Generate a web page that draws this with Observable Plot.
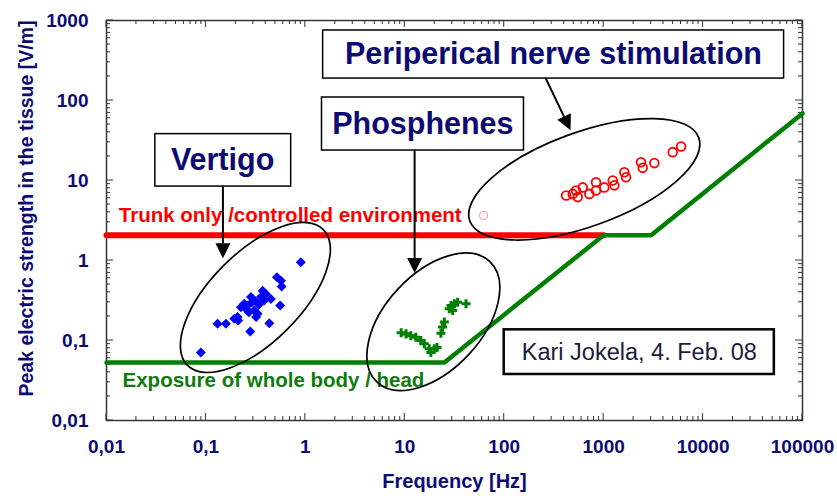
<!DOCTYPE html>
<html><head><meta charset="utf-8">
<script src="https://cdn.jsdelivr.net/npm/d3@7"></script>
<script src="https://cdn.jsdelivr.net/npm/@observablehq/plot@0.6"></script>
<style>body{margin:0;background:#fff}</style>
</head><body><div id="chart"></div>
<script>
// ---- data ----
const vertigoFreq = [0.90, 0.089, 0.131, 0.159, 0.193, 0.208, 0.263, 0.279, 0.434, 0.558, 0.518, 0.568, 0.577, 0.372, 0.40, 0.45, 0.284, 0.306, 0.225, 0.243, 0.306, 0.331, 0.32, 0.357, 0.385, 0.211, 0.27, 0.29, 0.26, 0.34];
const vertigoE    = [0.95, 0.071, 0.162, 0.162, 0.187, 0.196, 0.274, 0.13, 0.164, 0.274, 0.618, 0.56, 0.473, 0.42, 0.38, 0.33, 0.35, 0.316, 0.26, 0.288, 0.237, 0.216, 0.196, 0.35, 0.316, 0.178, 0.226, 0.30, 0.24, 0.28];
const phosFreq = [9.2, 10.3, 11.5, 12.9, 14.5, 15.7, 17.6, 19.8, 18.3, 21.1, 23.1, 24.0, 25, 28, 29.2, 31.5, 34, 41.3, 30.3];
const phosE    = [0.125, 0.121, 0.115, 0.11, 0.1, 0.091, 0.079, 0.079, 0.071, 0.082, 0.123, 0.147, 0.17, 0.249, 0.274, 0.288, 0.30, 0.288, 0.237];
const pnsFreq = [419, 489, 548, 527, 616, 718, 838, 838, 1016, 1234, 1282, 1616, 1680, 2376, 2470, 3236, 4955, 6010];
const pnsE    = [6.5, 6.8, 6.2, 7.5, 8.2, 6.8, 9.5, 7.5, 8.2, 10, 8.7, 12.7, 11, 16.9, 14.4, 16.5, 22.6, 26.6];
const pnsOutlierFreq = [62];
const pnsOutlierE = [3.65];

const trunkFreq = [0.01, 1000];
const trunkE = [2.07, 2.07];
const bodyFreq = [0.01, 25, 1000, 3000, 100000];
const bodyE = [0.053, 0.053, 2.07, 2.07, 69];

const xTicks = [0.01, 0.1, 1, 10, 100, 1000, 10000, 100000];
const xTickLabels = ["0,01", "0,1", "1", "10", "100", "1000", "10000", "100000"];
const yTicks = [0.01, 0.1, 1, 10, 100, 1000];
const yTickLabels = ["0,01", "0,1", "1", "10", "100", "1000"];

// annotations (data units)
const boxText = ["Vertigo", "Phosphenes", "Periperical nerve stimulation"];
const boxFreq1 = [0.031, 1.47, 1.51];
const boxFreq2 = [0.72, 158, 65300];
const boxE1 = [8.4, 23.7, 188];
const boxE2 = [38, 109, 750];
const boxTextFreq = [0.147, 15.2, 313];
const boxTextE = [17.8, 50.8, 376];

const arrowFreq1 = [0.15, 12.7, 264];
const arrowE1 = [8.4, 23.7, 188];
const arrowFreq2 = [0.15, 12.7, 470];
const arrowE2 = [1.05, 0.69, 42];

const ellipseFreq = [0.318, 19.6, 646];
const ellipseE = [0.34, 0.169, 10.2];
const ellipseMajor = [0.966, 0.83, 1.225]; // in decades of frequency
const ellipseMinor = [0.453, 0.485, 0.473];
const ellipseAngle = [45, 47, 20];

const noteText = ["Kari Jokela, 4. Feb. 08"];
const noteFreq1 = [100], noteFreq2 = [52100], noteE1 = [0.0376], noteE2 = [0.136];
const noteTextFreq = [2286], noteTextE = [0.0714];

const limitLabels = ["Trunk only /controlled environment", "Exposure of whole body / head"];
const limitLabelFreq = [0.0133, 0.0145];
const limitLabelE = [3.62, 0.0316];
const limitLabelColor = ["#ff0000", "#107a10"];

// ---- build ----
const navy = "#0b0b73";
const font = "'Liberation Sans', Arial, sans-serif";
const pts = (fs, es) => fs.map((f, i) => ({f, e: es[i]}));

const sqDiamond = {draw(ctx, size) {const r = Math.sqrt(size / Math.PI); ctx.moveTo(0, -r); ctx.lineTo(r, 0); ctx.lineTo(0, r); ctx.lineTo(-r, 0); ctx.closePath();}};

function ticksMark(index, scales, values, dims) {
  const g = d3.create("svg:g").attr("stroke", "#333").attr("stroke-width", 1);
  const {marginLeft: L, marginTop: T, width: W, height: H, marginRight: R, marginBottom: B} = dims;
  const xr = W - R, yb = H - B;
  const minor = (lo, hi) => { const out = []; for (let k = Math.log10(lo); k < Math.log10(hi); k++) for (let m = 2; m <= 9; m++) out.push(m * Math.pow(10, k)); return out; };
  for (const v of minor(0.01, 100000)) {
    const x = scales.x(v);
    g.append("line").attr("x1", x).attr("x2", x).attr("y1", T).attr("y2", T + 4);
    g.append("line").attr("x1", x).attr("x2", x).attr("y1", yb).attr("y2", yb - 4);
  }
  for (const v of xTicks) {
    const x = scales.x(v);
    g.append("line").attr("x1", x).attr("x2", x).attr("y1", T).attr("y2", T + 7);
    g.append("line").attr("x1", x).attr("x2", x).attr("y1", yb).attr("y2", yb - 7);
  }
  for (const v of minor(0.01, 1000)) {
    const y = scales.y(v);
    g.append("line").attr("y1", y).attr("y2", y).attr("x1", L).attr("x2", L + 4);
    g.append("line").attr("y1", y).attr("y2", y).attr("x1", xr).attr("x2", xr - 4);
  }
  for (const v of yTicks) {
    const y = scales.y(v);
    g.append("line").attr("y1", y).attr("y2", y).attr("x1", L).attr("x2", L + 7);
    g.append("line").attr("y1", y).attr("y2", y).attr("x1", xr).attr("x2", xr - 7);
  }
  return g.node();
}

function ellipsesMark(index, scales) {
  const g = d3.create("svg:g");
  const dec = scales.x(10) - scales.x(1);
  ellipseFreq.forEach((f, i) => {
    const cx = scales.x(f), cy = scales.y(ellipseE[i]);
    g.append("ellipse").attr("cx", cx).attr("cy", cy)
      .attr("rx", ellipseMajor[i] * dec).attr("ry", ellipseMinor[i] * dec)
      .attr("transform", `rotate(${-ellipseAngle[i]} ${cx} ${cy})`)
      .attr("fill", "none").attr("stroke", "#000").attr("stroke-width", 1.7);
  });
  return g.node();
}

function arrowsMark(index, scales) {
  const g = d3.create("svg:g");
  arrowFreq1.forEach((f, i) => {
    const x1 = scales.x(f), y1 = scales.y(arrowE1[i]);
    const x2 = scales.x(arrowFreq2[i]), y2 = scales.y(arrowE2[i]);
    const len = Math.hypot(x2 - x1, y2 - y1), ux = (x2 - x1) / len, uy = (y2 - y1) / len;
    const hl = 15, hw = 7.5;
    const bx = x2 - ux * hl, by = y2 - uy * hl;
    g.append("line").attr("x1", x1).attr("y1", y1).attr("x2", bx).attr("y2", by).attr("stroke", "#000").attr("stroke-width", 2);
    g.append("path").attr("d", `M${x2},${y2}L${bx - uy * hw},${by + ux * hw}L${bx + uy * hw},${by - ux * hw}Z`).attr("fill", "#000");
  });
  return g.node();
}

const boxes = boxText.map((t, i) => ({t, x1: boxFreq1[i], x2: boxFreq2[i], y1: boxE1[i], y2: boxE2[i], tx: boxTextFreq[i], ty: boxTextE[i]}));
const notes = noteText.map((t, i) => ({t, x1: noteFreq1[i], x2: noteFreq2[i], y1: noteE1[i], y2: noteE2[i], tx: noteTextFreq[i], ty: noteTextE[i]}));
const limits = limitLabels.map((t, i) => ({t, f: limitLabelFreq[i], e: limitLabelE[i], c: limitLabelColor[i]}));

const chart = Plot.plot({
  width: 837, height: 498,
  marginLeft: 106, marginRight: 35, marginTop: 20, marginBottom: 78,
  style: {fontFamily: font, background: "#fff"},
  x: {type: "log", domain: [0.01, 100000]},
  y: {type: "log", domain: [0.01, 1000]},
  marks: [
    Plot.axisX(xTicks, {anchor: "bottom", tickSize: 0, tickPadding: 19, tickFormat: d => xTickLabels[xTicks.indexOf(d)], fontSize: 19, fontWeight: "bold", fill: navy, label: null}),
    Plot.axisY(yTicks, {anchor: "left", tickSize: 0, tickPadding: 18, tickFormat: d => yTickLabels[yTicks.indexOf(d)], fontSize: 19, fontWeight: "bold", fill: navy, label: null}),
    Plot.text(["Frequency [Hz]"], {frameAnchor: "bottom", dy: 67, fontSize: 20, fontWeight: "bold", fill: navy}),
    Plot.text(["Peak electric strength in the tissue [V/m]"], {frameAnchor: "left", textAnchor: "middle", dx: -80, dy: -12, rotate: -90, fontSize: 19.5, fontWeight: "bold", fill: navy}),
    Plot.frame({stroke: "#2f3a36", strokeWidth: 1.5}),
    ticksMark,
    Plot.line(pts(trunkFreq, trunkE), {x: "f", y: "e", stroke: "#ff0000", strokeWidth: 6}),
    Plot.line(pts(bodyFreq, bodyE), {x: "f", y: "e", stroke: "#008000", strokeWidth: 4.5}),
    Plot.text(limits, {x: "f", y: "e", text: "t", fill: "c", textAnchor: "start", fontSize: 20.5, fontWeight: "bold"}),
    Plot.dot(pts(vertigoFreq, vertigoE), {x: "f", y: "e", symbol: sqDiamond, r: 5, fill: "#0000ff"}),
    Plot.dot(pts(phosFreq, phosE), {x: "f", y: "e", symbol: "cross", r: 3.8, fill: "#008000"}),
    Plot.dot(pts(pnsFreq, pnsE), {x: "f", y: "e", r: 4.4, stroke: "#ff0000", strokeWidth: 1.8, fill: "none"}),
    Plot.dot(pts(pnsOutlierFreq, pnsOutlierE), {x: "f", y: "e", r: 4, stroke: "#ff9a9a", strokeWidth: 1.2, fill: "none"}),
    ellipsesMark,
    Plot.rect(boxes, {x1: "x1", x2: "x2", y1: "y1", y2: "y2", fill: "#fff", stroke: "#000", strokeWidth: 1.5}),
    Plot.text(boxes, {x: "tx", y: "ty", text: "t", fontSize: 30.5, fontWeight: "bold", fill: navy}),
    Plot.rect(notes, {x1: "x1", x2: "x2", y1: "y1", y2: "y2", fill: "#fff", stroke: "#000", strokeWidth: 2.5}),
    Plot.text(notes, {x: "tx", y: "ty", text: "t", fontSize: 23.5, fill: "#1c1c3c"}),
    arrowsMark
  ]
});
document.getElementById("chart").append(chart);
</script>
</body></html>
